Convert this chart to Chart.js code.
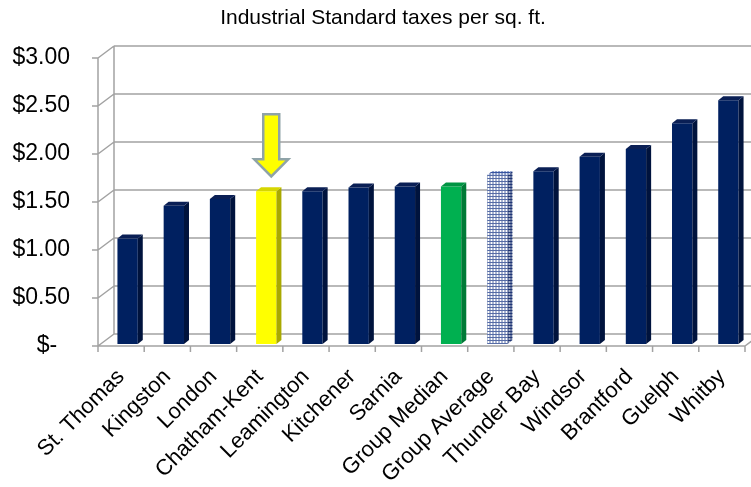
<!DOCTYPE html>
<html>
<head>
<meta charset="utf-8">
<script src="https://cdn.jsdelivr.net/npm/chart.js@4.4.0/dist/chart.umd.min.js"></script>
<style>
  html, body { margin: 0; padding: 0; background: #ffffff; }
  #wrap { width: 751px; height: 487px; position: relative; }
</style>
</head>
<body>
<div id="wrap"><canvas id="c" width="751" height="487"></canvas></div>
<script>
// ---- data ----
const chartTitle = 'Industrial Standard taxes per sq. ft.';
const categories = ['St. Thomas', 'Kingston', 'London', 'Chatham-Kent', 'Leamington', 'Kitchener', 'Sarnia',
  'Group Median', 'Group Average', 'Thunder Bay', 'Windsor', 'Brantford', 'Guelph', 'Whitby'];
const taxValues = [1.10, 1.44, 1.51, 1.59, 1.59, 1.63, 1.64, 1.64, 1.76, 1.80, 1.95, 2.03, 2.30, 2.54];
const yTickValues = [0, 0.5, 1, 1.5, 2, 2.5, 3];
const yTickLabels = ['$-  ', '$0.50', '$1.00', '$1.50', '$2.00', '$2.50', '$3.00'];
const highlightIndex = 3; // arrow points at Chatham-Kent

// ---- styles ----
const FONT = "'Liberation Sans', Arial, sans-serif";
const GRID = '#a2a2a2';
const WALL_DX = 16, WALL_DY = -12;   // back wall offset
const BAR_DX = 6.5, BAR_DY = -2;     // bar depth position
const SIDE_DX = 5, SIDE_DY = -4;     // bar depth faces

function makePattern(bg, line) {
  const p = document.createElement('canvas');
  p.width = 3; p.height = 3;
  const g = p.getContext('2d');
  g.fillStyle = bg; g.fillRect(0, 0, 3, 3);
  g.fillStyle = line; g.fillRect(0, 0, 3, 1); g.fillRect(0, 0, 1, 3);
  return g.createPattern(p, 'repeat');
}
const ctx0 = document.getElementById('c').getContext('2d');
const hatchFront = makePattern('#ffffff', '#566ca6');
const hatchSide = makePattern('#a6b0c8', '#1f3575');
const hatchTop = makePattern('#dfe5f2', '#3553a0');

const navy = { front: '#002060', side: '#00133d', top: '#0a1f55' };
const styleFor = (i) => {
  const c = categories[i];
  if (c === 'Chatham-Kent') return { front: '#ffff00', side: '#a9a900', top: '#d6d600' };
  if (c === 'Group Median') return { front: '#00b050', side: '#007a36', top: '#009443' };
  if (c === 'Group Average') return { front: hatchFront, side: hatchSide, top: hatchTop };
  return navy;
};

const frame3d = {
  id: 'frame3d',
  beforeDraw(chart) {
    const { ctx, chartArea: a, scales } = chart;
    const y = scales.y;
    ctx.save();
    ctx.fillStyle = '#ffffff';
    ctx.fillRect(0, 0, chart.width, chart.height);
    ctx.strokeStyle = GRID;
    ctx.lineWidth = 1.5;
    ctx.beginPath();
    yTickValues.forEach(v => {
      const py = y.getPixelForValue(v);
      ctx.moveTo(a.left + WALL_DX, py + WALL_DY);
      ctx.lineTo(a.right + WALL_DX + 20, py + WALL_DY);
      ctx.moveTo(a.left, py);
      ctx.lineTo(a.left + WALL_DX, py + WALL_DY);
      ctx.moveTo(a.left - 6, py);
      ctx.lineTo(a.left, py);
    });
    ctx.moveTo(a.left, a.top); ctx.lineTo(a.left, a.bottom);
    ctx.moveTo(a.left + WALL_DX, a.top + WALL_DY); ctx.lineTo(a.left + WALL_DX, a.bottom + WALL_DY);
    ctx.moveTo(a.left, a.bottom); ctx.lineTo(a.right, a.bottom);
    ctx.moveTo(a.right, a.bottom); ctx.lineTo(a.right + WALL_DX, a.bottom + WALL_DY);
    const n = categories.length;
    for (let i = 0; i <= n; i++) {
      const px = a.left + (a.right - a.left) * i / n;
      ctx.moveTo(px, a.bottom); ctx.lineTo(px, a.bottom + 6);
    }
    ctx.stroke();
    ctx.restore();
  },
  beforeDatasetsDraw(chart) {
    chart.ctx.save();
    chart.ctx.translate(BAR_DX, BAR_DY);
  },
  afterDatasetsDraw(chart) {
    const { ctx } = chart;
    const meta = chart.getDatasetMeta(0);
    meta.data.forEach((el, i) => {
      const p = el.getProps(['x', 'y', 'base', 'width'], true);
      const l = p.x - p.width / 2, r = p.x + p.width / 2;
      const s = styleFor(i);
      ctx.fillStyle = s.side;
      ctx.beginPath();
      ctx.moveTo(r, p.y); ctx.lineTo(r + SIDE_DX, p.y + SIDE_DY);
      ctx.lineTo(r + SIDE_DX, p.base + SIDE_DY); ctx.lineTo(r, p.base);
      ctx.closePath(); ctx.fill();
      ctx.fillStyle = s.top;
      ctx.beginPath();
      ctx.moveTo(l, p.y); ctx.lineTo(l + SIDE_DX, p.y + SIDE_DY);
      ctx.lineTo(r + SIDE_DX, p.y + SIDE_DY); ctx.lineTo(r, p.y);
      ctx.closePath(); ctx.fill();
    });
    ctx.restore();
  },
  afterDraw(chart) {
    const { ctx } = chart;
    ctx.save();
    ctx.fillStyle = '#000000';
    ctx.font = '21px ' + FONT;
    ctx.textAlign = 'center';
    ctx.textBaseline = 'middle';
    ctx.fillText(chartTitle, 383, 18);
    const el = chart.getDatasetMeta(0).data[highlightIndex];
    const cx = el.x + BAR_DX + 5;
    const tip = el.y + BAR_DY - 15;
    const headTop = tip - 17, shaftTop = tip - 62;
    ctx.beginPath();
    ctx.moveTo(cx - 8, shaftTop); ctx.lineTo(cx + 8, shaftTop);
    ctx.lineTo(cx + 8, headTop); ctx.lineTo(cx + 17, headTop);
    ctx.lineTo(cx, tip); ctx.lineTo(cx - 17, headTop);
    ctx.lineTo(cx - 8, headTop); ctx.closePath();
    ctx.fillStyle = '#ffff00';
    ctx.fill();
    ctx.lineWidth = 2.5;
    ctx.strokeStyle = '#8fa3a8';
    ctx.lineJoin = 'miter';
    ctx.stroke();
    ctx.restore();
  }
};

new Chart(ctx0, {
  type: 'bar',
  data: {
    labels: categories,
    datasets: [{
      data: taxValues,
      backgroundColor: categories.map((c, i) => styleFor(i).front),
      borderWidth: 0,
      barPercentage: 0.44,
      categoryPercentage: 1.0
    }]
  },
  options: {
    responsive: false,
    animation: false,
    devicePixelRatio: 1,
    layout: { padding: { top: 58, right: 6, left: 0, bottom: 0 } },
    plugins: { legend: { display: false }, title: { display: false }, tooltip: { enabled: false } },
    scales: {
      x: {
        grid: { display: false },
        border: { display: false },
        ticks: {
          color: '#000000',
          font: { family: FONT, size: 22 },
          minRotation: 45, maxRotation: 45,
          autoSkip: false,
          padding: 10
        },
        afterFit(scale) { scale.height = 141; }
      },
      y: {
        min: 0, max: 3,
        grid: { display: false },
        border: { display: false },
        afterBuildTicks(scale) { scale.ticks = yTickValues.map(v => ({ value: v })); },
        ticks: {
          color: '#000000',
          font: { family: FONT, size: 23 },
          padding: 20,
          callback: (v) => yTickLabels[yTickValues.indexOf(v)]
        },
        afterFit(scale) { scale.width = 98; }
      }
    }
  },
  plugins: [frame3d]
});
</script>
</body>
</html>
